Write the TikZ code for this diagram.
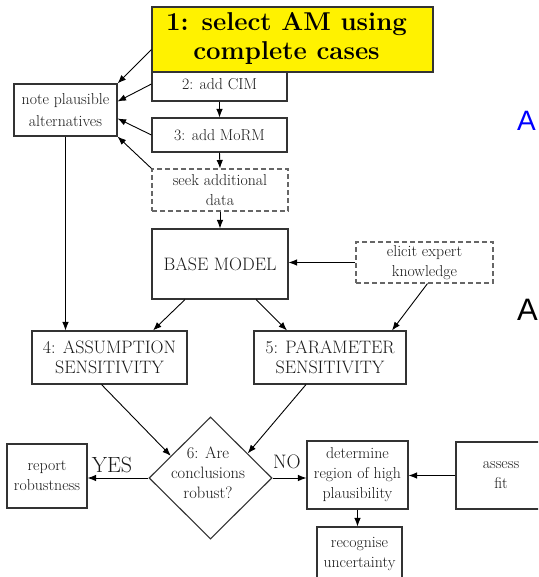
\documentclass[tikz,border=0pt]{standalone}
\usepackage{fontspec}
\newfontfamily\sanslabel{Liberation Sans}
\usetikzlibrary{arrows.meta,shapes.geometric,calc}
\begin{document}
\begin{tikzpicture}[x=1pt,y=-1pt,
  box/.style={draw=black!80,line width=1.1pt,inner sep=0pt,align=center,
    text=black!90,font=\fontsize{15.8pt}{20pt}\selectfont},
  capbox/.style={box,font=\fontsize{18pt}{20pt}\selectfont},
  dbox/.style={box,draw=black!60,dash pattern=on 5pt off 3pt},
  conn/.style={draw=black,line width=0.9pt,-{Latex[length=8.5pt,width=6.5pt]}},
  tag/.style={inner sep=0pt,text=black!90}]
\useasboundingbox (0,0) rectangle (538,577);
\clip (0,0) rectangle (538,577);

% left column of steps
\node[box,minimum width=103pt,minimum height=52pt,
      font=\fontsize{15.8pt}{22pt}\selectfont] (note) at (65.5,110) {note plausible\\alternatives};
\node[box,minimum width=135pt,minimum height=34pt] (cim) at (219.5,84) {2: add CIM};
\node[box,fill=yellow,minimum width=281pt,minimum height=65pt,text=black,
      font=\fontsize{25.8pt}{29pt}\selectfont\bfseries] (am) at (292.5,39.5)
      {\begin{tabular}{@{}c@{}}1: select AM using\\complete cases\end{tabular}\hspace{12pt}};
\node[box,minimum width=135pt,minimum height=34pt] (morm) at (219.5,135) {3: add MoRM};
\node[dbox,minimum width=136pt,minimum height=42pt] (seek) at (220,190) {seek additional\\data};
\node[capbox,minimum width=136pt,minimum height=70pt] (base) at (220,264) {BASE MODEL};
\node[dbox,minimum width=137pt,minimum height=41pt] (elicit) at (424.5,262.5) {elicit expert\\knowledge};

% sensitivity analyses
\node[capbox,minimum width=155pt,minimum height=53pt] (asum) at (109.5,357.5) {4: ASSUMPTION\\SENSITIVITY};
\node[capbox,minimum width=152pt,minimum height=53pt] (param) at (330,357.5) {5: PARAMETER\\SENSITIVITY};

% decision and outcomes
\node[draw=black!80,line width=1.1pt,diamond,inner sep=0pt,
      minimum width=123pt,minimum height=122pt] (dec) at (210.5,478) {};
\node[tag,align=center,font=\fontsize{16.5pt}{20pt}\selectfont] (dectext) at (208,473) {6: Are\\conclusions\\robust?};
\node[box,minimum width=80pt,minimum height=64pt] (report) at (47,476) {report\\robustness};
\node[box,minimum width=101pt,minimum height=68pt] (region) at (357.5,475) {determine\\region of high\\plausibility};
\node[box,minimum width=90pt,minimum height=67pt] (assess) at (501,475.5) {assess\\fit};
\node[box,minimum width=85pt,minimum height=54pt] (recog) at (359.5,554) {recognise\\uncertainty};

\node[tag,font=\fontsize{22pt}{22pt}\selectfont] (yes) at (112,465) {YES};
\node[tag,font=\fontsize{19.5pt}{19.5pt}\selectfont] (no) at (287,462) {NO};

% side letters
\node[tag,anchor=base west,text=blue,font=\sanslabel\fontsize{28pt}{28pt}\selectfont] (lblA) at (517,131) {A};
\node[tag,anchor=base west,text=black,font=\sanslabel\fontsize{31pt}{31pt}\selectfont] (lblB) at (517,320) {A};

% connectors into the alternatives box
\draw[conn] ($(am.west)+(0,10)$) -- (note.north east);
\draw[conn] (cim.west) -- ($(note.east)+(0,-8.5)$);
\draw[conn] (morm.west) -- ($(note.east)+(0,8.5)$);
\draw[conn] (seek.north west) -- (note.south east);

% main chain
\draw[conn] (cim.south) -- (morm.north);
\draw[conn] (morm.south) -- (seek.north);
\draw[conn] (seek.south) -- (base.north);
\draw[conn] (elicit.west) -- (base.east |- elicit.west);
\draw[conn] (note.south) -- (note.south |- asum.north);
\draw[conn] ($(base.south)+(-35,0)$) -- ($(asum.north)+(43.5,0)$);
\draw[conn] ($(base.south)+(36,0)$) -- ($(param.north)+(-43,0)$);
\draw[conn] ($(elicit.south)+(3,0)$) -- ($(param.north)+(62,0)$);
\draw[conn] ($(asum.south)+(-8,0)$) -- ($(dec.west)!0.36!(dec.north)$);
\draw[conn] ($(param.south)+(-24,0)$) -- ($(dec.north)!0.6!(dec.east)$);
\draw[conn] (dec.west) -- (report.east |- dec.west);
\draw[conn] (dec.east) -- (region.west |- dec.east);
\draw[conn] (assess.west) -- (region.east |- assess.west);
\draw[conn] (region.south) -- (recog.north -| region.south);
\end{tikzpicture}
\end{document}
